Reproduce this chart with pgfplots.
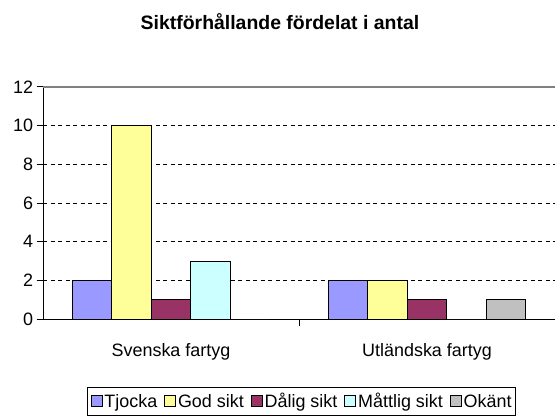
\documentclass[border=0pt]{standalone}
\usepackage{fontspec}
\setmainfont{Liberation Sans}
\usepackage{pgfplots}
\pgfplotsset{compat=1.18}
\definecolor{cT}{HTML}{9999FF}
\definecolor{cG}{HTML}{FFFF99}
\definecolor{cD}{HTML}{993366}
\definecolor{cM}{HTML}{CCFFFF}
\definecolor{cO}{HTML}{C0C0C0}
\begin{document}
\begin{tikzpicture}[x=1bp,y=1bp]
\useasboundingbox (0,0) rectangle (555,419);
\node[anchor=base, inner sep=0pt, font=\fontsize{19.5}{22}\selectfont\bfseries] at (280,389) {Siktförhållande fördelat i antal};
\begin{axis}[
  at={(43bp,100bp)}, anchor=south west,
  scale only axis, width=512bp, height=232bp,
  xmin=-0.5, xmax=1.5, ymin=0, ymax=12,
  ybar=0pt, bar width=0.1543,
  axis x line*=bottom, axis y line*=left,
  axis line style={black, line width=1bp},
  ytick={0,2,...,10},
  extra y ticks={12}, extra y tick style={grid=none},
  xtick={0.5}, xticklabels={},
  extra x ticks={0,1}, extra x tick labels={Svenska fartyg, Utländska fartyg},
  extra x tick style={grid=none, major tick length=0pt},
  tick style={draw=black, line width=1bp},
  tick align=outside, major tick length=6.5bp,
  ymajorgrids=true, xmajorgrids=false,
  y grid style={black, dash pattern=on 4bp off 3.5bp, line width=0.8bp},
  tick label style={font=\fontsize{18}{21}\selectfont},
  /pgf/number format/assume math mode=true,
  xticklabel style={anchor=base, yshift=-37bp},
  yticklabel style={anchor=east},
  every axis plot/.append style={draw=black, line width=0.8bp},
  legend style={at={(0.505,-0.355)}, anchor=center, legend columns=-1,
    draw=black, line width=1bp, font=\fontsize{18}{21}\selectfont,
    inner xsep=3bp, inner ysep=5bp,
    nodes={inner sep=1bp},
    /tikz/every odd column/.append style={column sep=1bp},
    /tikz/every even column/.append style={column sep=6bp}},
  legend image code/.code={\draw[#1, draw=black, line width=0.8bp] (0bp,-5bp) rectangle (11bp,6bp);},
]
\addplot[fill=cT] coordinates {(0,2) (1,2)};
\addplot[fill=cG] coordinates {(0,10) (1,2)};
\addplot[fill=cD] coordinates {(0,1) (1,1)};
\addplot[fill=cM] coordinates {(0,3) (1,0)};
\addplot[fill=cO] coordinates {(0,0) (1,1)};
\legend{Tjocka, God sikt, Dålig sikt, Måttlig sikt, Okänt}
\draw[color={rgb,255:red,128;green,128;blue,128}, line width=1.2bp] (rel axis cs:0,1) -- (rel axis cs:1,1);
\end{axis}
\end{tikzpicture}
\end{document}
